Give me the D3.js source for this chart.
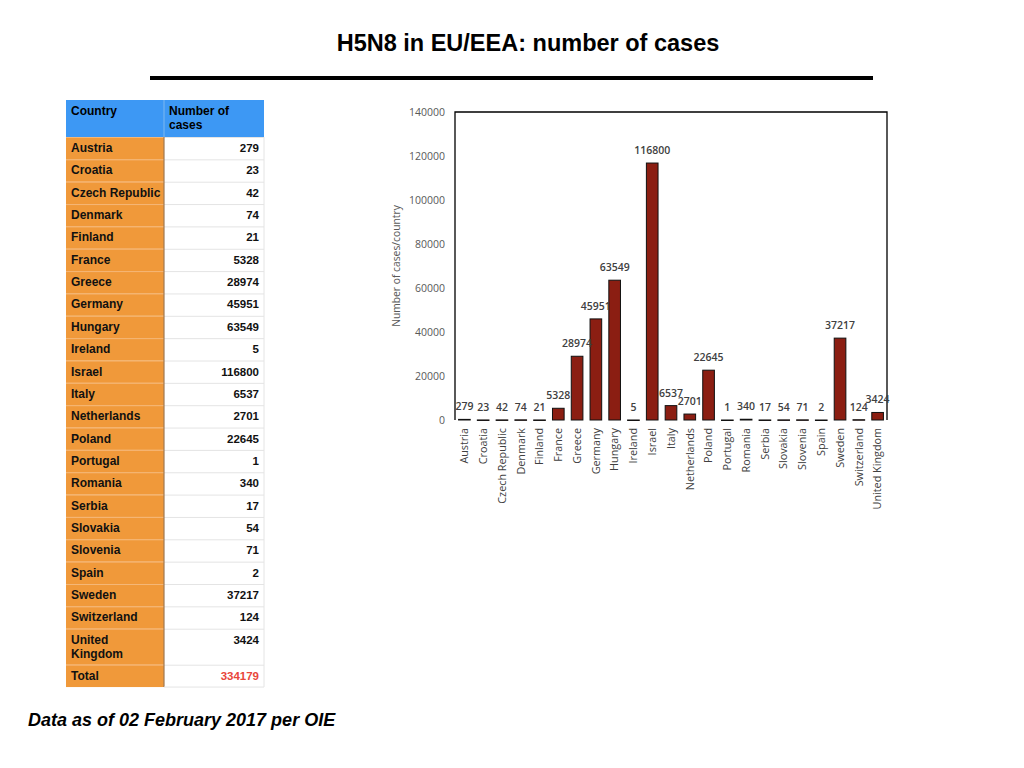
<!DOCTYPE html>
<html><head><meta charset="utf-8">
<script src="https://cdn.jsdelivr.net/npm/d3@7"></script>
<style>body{margin:0;background:#fff;}svg{display:block;}</style>
</head><body>
<svg id="c" width="1024" height="768"></svg>
<script>
const countries = ["Austria","Croatia","Czech Republic","Denmark","Finland","France","Greece","Germany","Hungary","Ireland","Israel","Italy","Netherlands","Poland","Portugal","Romania","Serbia","Slovakia","Slovenia","Spain","Sweden","Switzerland","United Kingdom"];
const cases = [279,23,42,74,21,5328,28974,45951,63549,5,116800,6537,2701,22645,1,340,17,54,71,2,37217,124,3424];
const yTicks = [0,20000,40000,60000,80000,100000,120000,140000];
const totalLabel = "334179";

const svg = d3.select("#c");

// Title
svg.append("text").attr("x",528).attr("y",51).attr("text-anchor","middle")
  .attr("font-family","Liberation Sans, Arial, sans-serif").attr("font-weight","bold").attr("font-size",23.5)
  .attr("fill","#000").text("H5N8 in EU/EEA: number of cases");
svg.append("rect").attr("x",150).attr("y",76).attr("width",723).attr("height",4).attr("fill","#000");

// Table
const tx0 = 66, tx1 = 164, tx2 = 264;
const tf = "Liberation Sans, Arial, sans-serif";
const tbl = svg.append("g");
tbl.append("rect").attr("x",tx0).attr("y",100).attr("width",tx2-tx0).attr("height",37).attr("fill","#3d98f4");
tbl.append("line").attr("x1",tx1).attr("x2",tx1).attr("y1",100).attr("y2",137).attr("stroke","#7fb8f0").attr("stroke-width",1);
tbl.append("text").attr("x",tx0+5).attr("y",115).attr("font-family",tf).attr("font-weight","bold").attr("font-size",12).text("Country");
tbl.append("text").attr("x",tx1+5).attr("y",115).attr("font-family",tf).attr("font-weight","bold").attr("font-size",12).text("Number of");
tbl.append("text").attr("x",tx1+5).attr("y",129).attr("font-family",tf).attr("font-weight","bold").attr("font-size",12).text("cases");

const rh = 22.35;
let yy = 137;
const rows = countries.map((c,i)=>({c, v:String(cases[i]), h: c==="United Kingdom"? 36 : rh, total:false}));
rows.push({c:"Total", v: totalLabel, h: rh, total:true});
rows.forEach((r)=>{
  tbl.append("rect").attr("x",tx0).attr("y",yy).attr("width",tx1-tx0).attr("height",r.h).attr("fill","#f0993a");
  tbl.append("rect").attr("x",tx1).attr("y",yy).attr("width",tx2-tx1).attr("height",r.h).attr("fill","#fff");
  tbl.append("line").attr("x1",tx0).attr("x2",tx1).attr("y1",yy+0.5).attr("y2",yy+0.5).attr("stroke","#f5b777");
  tbl.append("line").attr("x1",tx1).attr("x2",tx2).attr("y1",yy+0.5).attr("y2",yy+0.5).attr("stroke","#e4e4e4");
  const lines = r.c==="United Kingdom" ? ["United","Kingdom"] : [r.c];
  lines.forEach((l,k)=>{
    tbl.append("text").attr("x",tx0+5).attr("y",yy+15+k*14).attr("font-family",tf).attr("font-weight","bold").attr("font-size",12).attr("fill","#111").text(l);
  });
  tbl.append("text").attr("x",tx2-5).attr("y",yy+15).attr("text-anchor","end").attr("font-family",tf).attr("font-weight","bold").attr("font-size",11.5)
    .attr("fill", r.total? "#e8463a" : "#111").text(r.v);
  yy += r.h;
});
tbl.append("line").attr("x1",tx1).attr("x2",tx1).attr("y1",137).attr("y2",yy).attr("stroke","#a07850").attr("stroke-width",1.2);
tbl.append("line").attr("x1",tx2).attr("x2",tx2).attr("y1",137).attr("y2",yy).attr("stroke","#e4e4e4");
tbl.append("line").attr("x1",tx1).attr("x2",tx2).attr("y1",yy).attr("y2",yy).attr("stroke","#e4e4e4");

// Chart
const L = 455, R = 887, T = 112, B = 420;
const cf = "Open Sans, Noto Sans, sans-serif";
const x = d3.scaleBand().domain(countries).range([L,R]).paddingInner(0.38).paddingOuter(0.19);
const y = d3.scaleLinear().domain([0,140000]).range([B,T]);

const ya = svg.append("g").attr("transform",`translate(${L},0)`)
  .call(d3.axisLeft(y).tickValues(yTicks).tickSize(0).tickPadding(10).tickFormat(d3.format("d")));
ya.select(".domain").remove();
ya.selectAll("text").attr("font-family",cf).attr("font-size",10.5).attr("fill","#595959");

// box (left, top, right)
svg.append("path").attr("d",`M${L},${B}V${T}H${R}V${B}`).attr("fill","none").attr("stroke","#000").attr("stroke-width",1.3);

svg.append("g").selectAll("rect").data(countries).join("rect")
  .attr("x",d=>x(d)).attr("width",x.bandwidth())
  .attr("y",(d,i)=>y(cases[i])).attr("height",(d,i)=>Math.max(0.5,B-y(cases[i])))
  .attr("fill","#8b1e12").attr("stroke","#111").attr("stroke-width",1);

svg.append("g").selectAll("text").data(countries).join("text")
  .attr("x",d=>x(d)+x.bandwidth()/2).attr("y",(d,i)=>y(cases[i])-9)
  .attr("text-anchor","middle").attr("font-family",cf).attr("font-weight","600").attr("font-size",10.5).attr("fill","#404040")
  .text((d,i)=>cases[i]);

const xa = svg.append("g").attr("transform",`translate(0,${B})`)
  .call(d3.axisBottom(x).tickSize(0).tickPadding(0));
xa.select(".domain").remove();
xa.selectAll("text").attr("font-family",cf).attr("font-size",10.8).attr("fill","#404040")
  .attr("text-anchor","end").attr("dy","0.35em").attr("transform","translate(0,8) rotate(-90)").attr("x",0).attr("y",0);

svg.append("text").attr("transform","translate(400,266) rotate(-90)").attr("text-anchor","middle")
  .attr("font-family",cf).attr("font-size",10.3).attr("fill","#595959").text("Number of cases/country");

// Footer
svg.append("text").attr("x",28).attr("y",726).attr("font-family",tf).attr("font-weight","bold").attr("font-style","italic").attr("font-size",18).text("Data as of 02 February 2017 per OIE");
</script>
</body></html>
